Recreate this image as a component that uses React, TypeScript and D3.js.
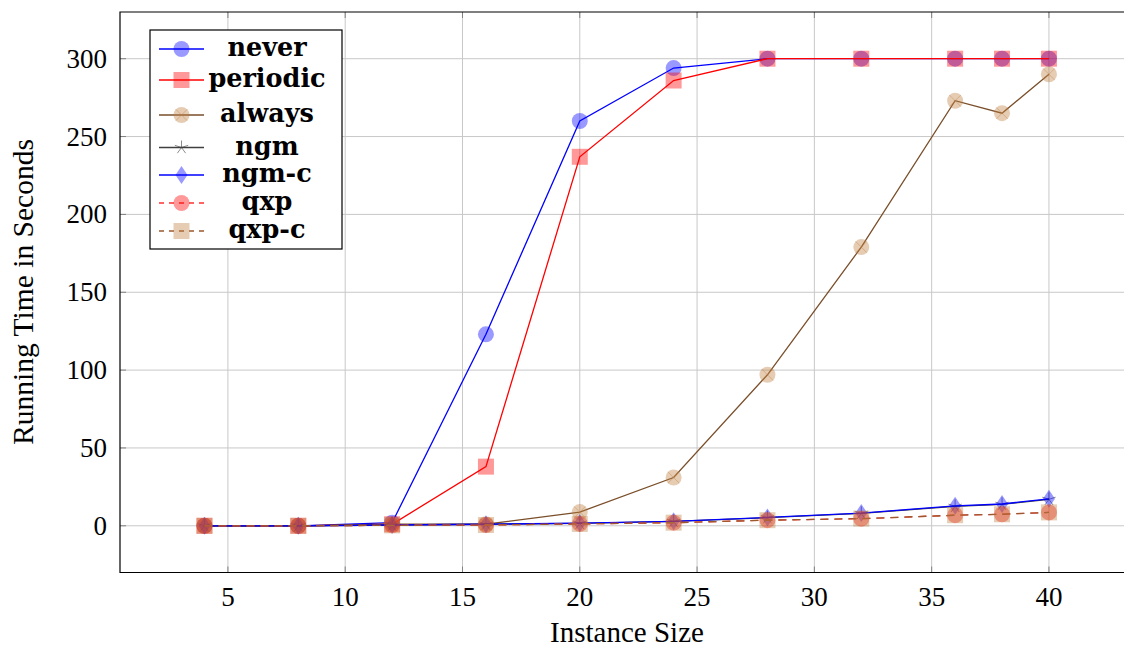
import React from "react";
import * as d3 from "d3";

const sizes = [4, 8, 12, 16, 20, 24, 28, 32, 36, 38, 40];
const neverVals = [0, 0, 2, 123, 260, 294, 300, 300, 300, 300, 300];
const periodicVals = [0, 0, 1, 38, 237, 286, 300, 300, 300, 300, 300];
const alwaysVals = [0, 0, 1, 1, 8.8, 31, 97, 179, 273, 265, 290];
const ngmVals = [0, 0, 0.5, 1, 1.6, 2.8, 5.2, 8, 12.5, 13.8, 17];
const ngmcVals = [0, 0, 0.5, 1, 1.7, 2.9, 5.4, 8.2, 12.8, 14, 17.3];
const qxpVals = [0, 0, 0.3, 0.5, 1.2, 2, 3.6, 4.6, 6.8, 7.4, 8.6];
const qxpcVals = [0, 0, 0.3, 0.5, 1.2, 2, 3.6, 4.6, 6.8, 7.4, 8.6];

const xTicks = [5, 10, 15, 20, 25, 30, 35, 40];
const yTicks = [0, 50, 100, 150, 200, 250, 300];

type Marker = "circle" | "square" | "otimes" | "star" | "diamond";
interface Series {
  name: string;
  values: number[];
  line: string;
  fill: string;
  marker: Marker;
  dashed: boolean;
}

const BROWN = "#bf8040";
const series: Series[] = [
  { name: "never", values: neverVals, line: "#0000ff", fill: "#0000ff", marker: "circle", dashed: false },
  { name: "periodic", values: periodicVals, line: "#ff0000", fill: "#ff0000", marker: "square", dashed: false },
  { name: "always", values: alwaysVals, line: "#7a4f2a", fill: BROWN, marker: "otimes", dashed: false },
  { name: "ngm", values: ngmVals, line: "#404040", fill: "#404040", marker: "star", dashed: false },
  { name: "ngm-c", values: ngmcVals, line: "#0000ff", fill: "#0000ff", marker: "diamond", dashed: false },
  { name: "qxp", values: qxpVals, line: "#ff3030", fill: "#ff0000", marker: "circle", dashed: true },
  { name: "qxp-c", values: qxpcVals, line: "#9a5a30", fill: BROWN, marker: "square", dashed: true },
];

const W = 1124;
const H = 647;
const left = 120;
const top = 12;
const bottom = 572.5;

const x = d3.scaleLinear().domain([0.4, 43.6]).range([120, 1133.4]);
const y = d3.scaleLinear().domain([-30, 330]).range([bottom, top]);

function MarkerShape({ m, cx, cy, fill }: { m: Marker; cx: number; cy: number; fill: string }) {
  const op = 0.4;
  switch (m) {
    case "circle":
      return <circle cx={cx} cy={cy} r={8} fill={fill} fillOpacity={op} />;
    case "square":
      return <rect x={cx - 8} y={cy - 8} width={16} height={16} fill={fill} fillOpacity={op} />;
    case "otimes":
      return (
        <g>
          <circle cx={cx} cy={cy} r={8} fill={fill} fillOpacity={op} />
          <path
            d={`M${cx - 5.6},${cy - 5.6}L${cx + 5.6},${cy + 5.6}M${cx - 5.6},${cy + 5.6}L${cx + 5.6},${cy - 5.6}`}
            stroke={fill}
            strokeOpacity={op}
            strokeWidth={1}
          />
        </g>
      );
    case "star": {
      const r = 7;
      let d = "";
      for (let k = 0; k < 5; k++) {
        const a = -Math.PI / 2 + (k * 2 * Math.PI) / 5;
        d += `M${cx},${cy}L${cx + r * Math.cos(a)},${cy + r * Math.sin(a)}`;
      }
      return <path d={d} stroke={fill} strokeOpacity={0.6} strokeWidth={1} fill="none" />;
    }
    case "diamond":
      return (
        <path
          d={`M${cx},${cy - 9}L${cx + 6},${cy}L${cx},${cy + 9}L${cx - 6},${cy}Z`}
          fill={fill}
          fillOpacity={op}
        />
      );
  }
}

const TICKFONT = "Liberation Serif";
const LABELFONT = "Liberation Serif";
const BOLD = "DejaVu Serif";

export default function App() {
  const line = d3
    .line<number>()
    .x((_, i) => x(sizes[i]))
    .y((v) => y(v));

  const legendRows = [49, 80, 115, 147.5, 175, 203, 231];

  return (
    <svg width={W} height={H} style={{ position: "absolute", left: 0, top: 0, background: "#fff" }}>
      <defs>
        <clipPath id="plotclip">
          <rect x={left} y={top} width={W - left + 20} height={bottom - top} />
        </clipPath>
      </defs>
      <rect width={W} height={H} fill="#fff" />
      {xTicks.map((t) => (
        <line key={"gx" + t} x1={x(t)} x2={x(t)} y1={top} y2={bottom} stroke="#c8c8c8" strokeWidth={1} />
      ))}
      {yTicks.map((t) => (
        <line key={"gy" + t} x1={left} x2={W} y1={y(t)} y2={y(t)} stroke="#c8c8c8" strokeWidth={1} />
      ))}
      {xTicks.map((t) => (
        <g key={"tx" + t}>
          <line x1={x(t)} x2={x(t)} y1={bottom} y2={bottom - 6} stroke="#808080" strokeWidth={1} />
          <line x1={x(t)} x2={x(t)} y1={top} y2={top + 6} stroke="#808080" strokeWidth={1} />
        </g>
      ))}
      {yTicks.map((t) => (
        <line key={"ty" + t} x1={left} x2={left + 6} y1={y(t)} y2={y(t)} stroke="#808080" strokeWidth={1} />
      ))}
      <g clipPath="url(#plotclip)">
        {series.map((s) => (
          <g key={s.name}>
            <path
              d={line(s.values) || ""}
              fill="none"
              stroke={s.line}
              strokeWidth={1.3}
              strokeDasharray={s.dashed ? "8,6" : undefined}
            />
            {s.values.map((v, i) => (
              <MarkerShape key={i} m={s.marker} cx={x(sizes[i])} cy={y(v)} fill={s.fill} />
            ))}
          </g>
        ))}
      </g>
      <path d={`M${W + 5},${top}H${left}V${bottom}H${W + 5}`} fill="none" stroke="#000" strokeWidth={1.2} />
      {xTicks.map((t) => (
        <text key={"lx" + t} x={x(t)} y={606} textAnchor="middle" fontSize={27} fontFamily={TICKFONT}>
          {t}
        </text>
      ))}
      {yTicks.map((t) => (
        <text key={"ly" + t} x={107} y={y(t) + 9} textAnchor="end" fontSize={27} fontFamily={TICKFONT}>
          {t}
        </text>
      ))}
      <text x={627} y={642} textAnchor="middle" fontSize={29} fontFamily={LABELFONT}>
        Instance Size
      </text>
      <text transform="translate(33,292) rotate(-90)" textAnchor="middle" fontSize={29.5} fontFamily={LABELFONT}>
        Running Time in Seconds
      </text>
      <rect x={150} y={30} width={192} height={219} fill="#fff" stroke="#000" strokeWidth={1.2} />
      {series.map((s, i) => {
        const cy = legendRows[i];
        return (
          <g key={"lg" + s.name}>
            <line
              x1={159}
              x2={204}
              y1={cy}
              y2={cy}
              stroke={s.line}
              strokeWidth={1.3}
              strokeDasharray={s.dashed ? "5,5" : undefined}
            />
            <MarkerShape m={s.marker} cx={181.5} cy={cy} fill={s.fill} />
            <text x={267} y={cy + 7} textAnchor="middle" fontSize={25.5} fontWeight="bold" fontFamily={BOLD}>
              {s.name}
            </text>
          </g>
        );
      })}
    </svg>
  );
}
